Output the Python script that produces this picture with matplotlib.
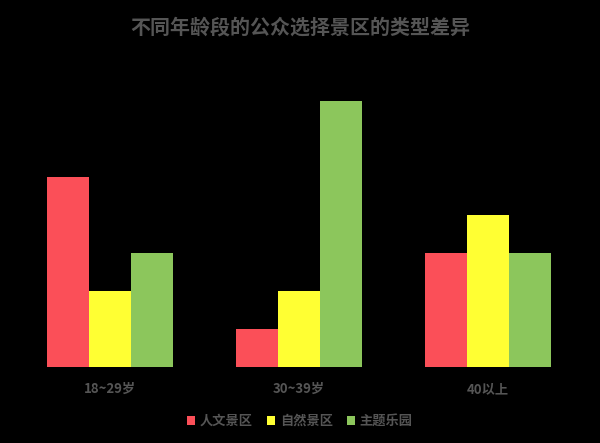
import matplotlib.pyplot as plt
import numpy as np

plt.rcParams['font.family'] = ['Noto Sans CJK SC', 'DejaVu Sans']

groups = ['18~29岁', '30~39岁', '40以上']
series_names = ['人文景区', '自然景区', '主题乐园']
humanities = [5, 1, 3]
nature = [2, 2, 4]
theme_park = [3, 7, 3]
colors = ['#FB4F58', '#FFFF33', '#8CC65C']

fig = plt.figure(figsize=(6.0, 4.43), dpi=100, facecolor='black')
ax = fig.add_axes([15.5 / 600, (443 - 367) / 443, 567 / 600, 8 * 38 / 443])
ax.set_facecolor('black')

x = np.arange(len(groups))
w = 42 / 189
for i, (vals, name) in enumerate(zip([humanities, nature, theme_park], series_names)):
    ax.bar(x + (i - 1) * w, vals, width=w, color=colors[i], label=name)

ax.set_xlim(-0.5, 2.5)
ax.set_ylim(0, 8)
ax.set_yticks([])
ax.set_xticks(x)
ax.set_xticklabels(groups, color='#555555', fontsize=9.5, fontweight='bold')
ax.tick_params(axis='x', length=0, pad=11)
for s in ax.spines.values():
    s.set_visible(False)

fig.text(0.5, 1 - 27 / 443, '不同年龄段的公众选择景区的类型差异', ha='center', va='center',
         color='#555555', fontsize=14.4, fontweight='bold')

leg = fig.legend(loc='center', bbox_to_anchor=(0.5, 1 - 421 / 443), ncol=3, frameon=False,
                 handlelength=0.6, handleheight=0.6, handletextpad=0.35, columnspacing=1.1,
                 prop={'size': 9.5, 'weight': 'bold'})
for t in leg.get_texts():
    t.set_color('#555555')

fig.savefig('out.png', dpi=100, facecolor='black')
